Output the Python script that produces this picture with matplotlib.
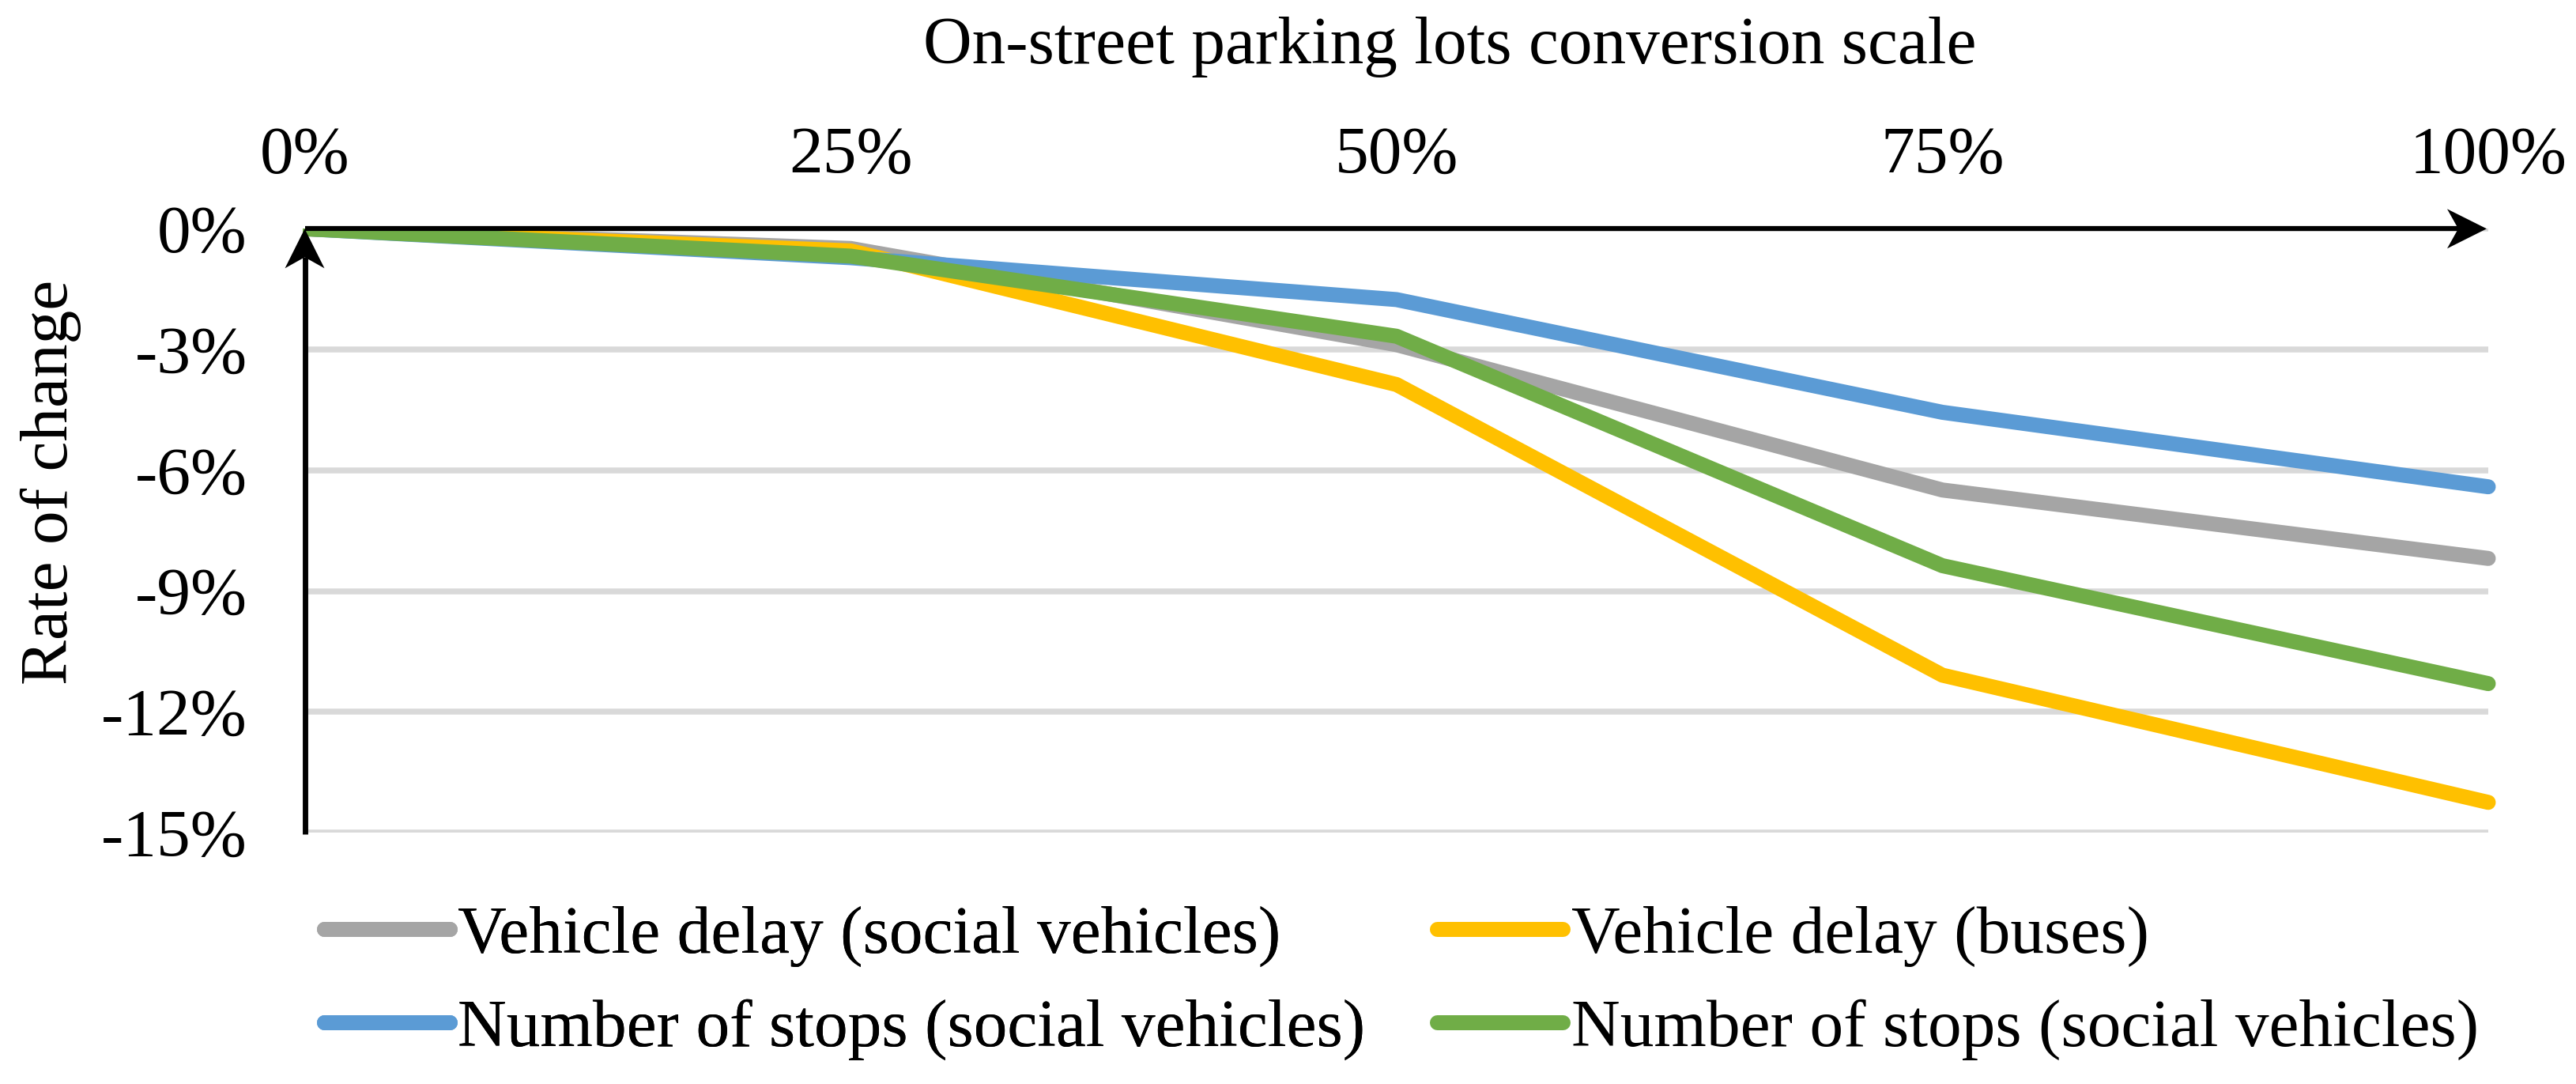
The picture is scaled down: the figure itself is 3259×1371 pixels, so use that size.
import matplotlib
matplotlib.use("Agg")
import matplotlib.pyplot as plt
from matplotlib.patches import Polygon
from matplotlib.lines import Line2D
from matplotlib.transforms import Bbox, TransformedBbox
import numpy as np

# ---- data ----
scale_labels = ["0%", "25%", "50%", "75%", "100%"]
scale_values = [0, 25, 50, 75, 100]
delay_social = [0.0, -0.49, -2.88, -6.49, -8.19]
delay_buses = [0.0, -0.55, -3.87, -11.09, -14.25]
stops_social_a = [0.0, -0.72, -1.76, -4.56, -6.41]
stops_social_b = [0.0, -0.68, -2.67, -8.37, -11.30]
y_ticks = [0, -3, -6, -9, -12, -15]
y_tick_labels = ["0%", "-3%", "-6%", "-9%", "-12%", "-15%"]
series_names = ["Vehicle delay (social vehicles)", "Vehicle delay (buses)",
                "Number of stops (social vehicles)", "Number of stops (social vehicles)"]
series_colors = ["#A5A5A5", "#FFC000", "#5B9BD5", "#70AD47"]

W, H, DPI = 3259, 1371, 300
FS = 20.5
plt.rcParams['font.family'] = ['Liberation Serif', 'DejaVu Serif']

fig = plt.figure(figsize=(W / DPI, H / DPI), dpi=DPI)
x0, x1 = 385.5, 3148.0
ytop, ybot = 289.3, 1053.0
ax = fig.add_axes([x0 / W, 1 - ybot / H, (x1 - x0) / W, (ybot - ytop) / H])
ax.set_xlim(0, 100)
ax.set_ylim(-15, 0)
for s in ax.spines.values():
    s.set_visible(False)

ax.set_yticks(y_ticks)
ax.set_yticklabels(y_tick_labels, fontsize=FS)
ax.tick_params(axis='y', length=0, pad=17.5)
ax.xaxis.tick_top()
ax.set_xticks(scale_values)
ax.set_xticklabels(scale_labels, fontsize=FS)
ax.tick_params(axis='x', length=0, pad=12.5)
ax.yaxis.grid(True, color='#D9D9D9', linewidth=1.8, zorder=1)
ax.set_axisbelow(True)

lw = 19 * 72 / DPI
clip = TransformedBbox(Bbox([[-0.001, -0.01], [1.004, 1.0]]), ax.transAxes)
series = [delay_social, delay_buses, stops_social_a, stops_social_b]
lines = []
for vals, name, col in zip(series, series_names, series_colors):
    ln, = ax.plot(scale_values, vals, color=col, linewidth=lw, label=name,
                  solid_capstyle='round', solid_joinstyle='round', zorder=4)
    ln.set_clip_box(clip)
    lines.append(ln)

# ---- arrow axes (decoration) in pixel units ----
def px(xp, yp):
    # image pixel coords (origin top-left) -> figure fraction
    return (xp / W, 1 - yp / H)

alw = 1.5
# horizontal arrow
tipx, tipy = 3146.0, 289.3
L, hw, notch = 50.0, 25.0, 14.0
fig.add_artist(Line2D([x0 / W, (tipx - L + notch) / W], [1 - tipy / H] * 2,
                      transform=fig.transFigure, color='black', linewidth=alw,
                      solid_capstyle='butt', zorder=3))
head = [px(tipx, tipy), px(tipx - L, tipy - hw), px(tipx - L + notch, tipy), px(tipx - L, tipy + hw)]
fig.add_artist(Polygon(head, closed=True, transform=fig.transFigure, facecolor='black',
                       edgecolor='none', zorder=3))
# vertical arrow
vx, vtop, vbot = 385.5, 289.3, 1055.0
fig.add_artist(Line2D([vx / W] * 2, [1 - vbot / H, 1 - (vtop + L - notch) / H],
                      transform=fig.transFigure, color='black', linewidth=alw * 1.1,
                      solid_capstyle='butt', zorder=3))
head = [px(vx, vtop), px(vx - hw, vtop + L), px(vx, vtop + L - notch), px(vx + hw, vtop + L)]
fig.add_artist(Polygon(head, closed=True, transform=fig.transFigure, facecolor='black',
                       edgecolor='none', zorder=3))

# ---- titles ----
fig.text(1834 / W, 1 - 80 / H, "On-street parking lots conversion scale", fontsize=FS,
         ha='center', va='baseline')
fig.text(85 / W, 1 - 610 / H, "Rate of change", fontsize=FS, rotation=90,
         rotation_mode='anchor', ha='center', va='baseline')

# ---- legends (two columns) ----
hl = (178 - 19) / (FS * DPI / 72)
common = dict(frameon=False, fontsize=FS, handlelength=hl, handletextpad=0.12,
              labelspacing=0.47, borderpad=0, borderaxespad=0, loc='center left')
leg1 = fig.legend([lines[0], lines[2]], [series_names[0], series_names[2]],
                  bbox_to_anchor=(409.5 / W, 1 - 1243 / H), **common)
fig.add_artist(leg1)
leg2 = fig.legend([lines[1], lines[3]], [series_names[1], series_names[3]],
                  bbox_to_anchor=(1818.5 / W, 1 - 1243 / H), **common)

fig.savefig("out.png", dpi=DPI)
